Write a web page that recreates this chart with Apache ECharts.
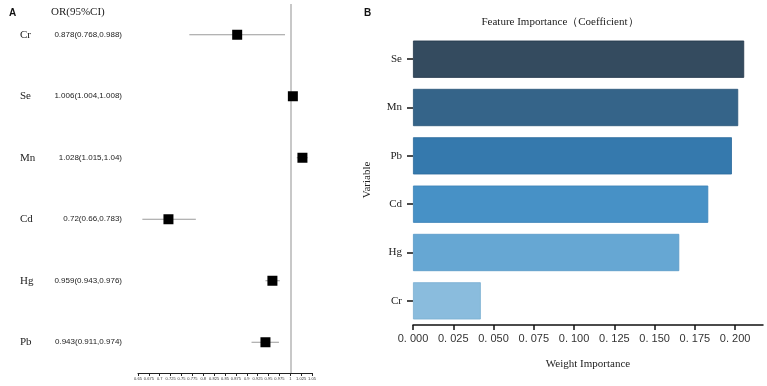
<!DOCTYPE html>
<html>
<head>
<meta charset="utf-8">
<script src="https://cdn.jsdelivr.net/npm/echarts@6/dist/echarts.min.js"></script>
<style>
  html, body { margin: 0; padding: 0; background: #fff; }
  #chart { width: 767px; height: 386px; }
</style>
</head>
<body>
<div id="chart"></div>
<script>
// panel A - forest plot
var orNames = ['Cr', 'Se', 'Mn', 'Cd', 'Hg', 'Pb']
var orValue = [0.878, 1.006, 1.028, 0.72, 0.959, 0.943]
var orLow = [0.768, 1.004, 1.015, 0.66, 0.943, 0.911]
var orHigh = [0.988, 1.008, 1.04, 0.783, 0.976, 0.974]
var orText = ['0.878(0.768,0.988)', '1.006(1.004,1.008)', '1.028(1.015,1.04)',
  '0.72(0.66,0.783)', '0.959(0.943,0.976)', '0.943(0.911,0.974)']
var refValue = 1

// panel B - feature importance
var featNames = ['Se', 'Mn', 'Pb', 'Cd', 'Hg', 'Cr']
var featValues = [0.2056, 0.2019, 0.198, 0.1833, 0.1653, 0.0421]
var featColors = ['#344b5f', '#356489', '#3579ad', '#4791c6', '#66a7d3', '#8abcdd']
var featBorders = ['#22364a', '#2a5578', '#2b6a9c', '#3a82b8', '#5898c6', '#7aaed2']

var serif = '"Liberation Serif", "DejaVu Serif", serif'
var sans = '"Liberation Sans", Arial, sans-serif'

var myChart = echarts.init(document.getElementById('chart'))

myChart.setOption({
  animation: false,
  backgroundColor: '#fff',
  title: [
    { text: 'A', left: 4, top: 3, textStyle: { fontFamily: sans, fontSize: 10, fontWeight: 'bold', color: '#111' } },
    { text: 'OR(95%CI)', left: 46, top: 2, textStyle: { fontFamily: serif, fontSize: 11, fontWeight: 'normal', color: '#222' } },
    { text: 'B', left: 359, top: 3, textStyle: { fontFamily: sans, fontSize: 10, fontWeight: 'bold', color: '#111' } },
    {
      text: 'Feature Importance（Coefficient）', left: 555, top: 12, textAlign: 'center',
      textStyle: { fontFamily: serif, fontSize: 11, fontWeight: 'normal', color: '#222' }
    }
  ],
  grid: [
    { left: 138, top: 4, width: 174, height: 369 },
    { left: 413, top: 35, right: 4, height: 290 }
  ],
  xAxis: [
    {
      type: 'value', gridIndex: 0, min: 0.65, max: 1.05, interval: 0.025,
      splitLine: { show: false },
      axisLine: { show: true, onZero: false, lineStyle: { color: '#222', width: 1 } },
      axisTick: { show: true, length: 3, lineStyle: { color: '#222' } },
      axisLabel: {
        interval: 0, fontSize: 4, margin: 4, color: '#333', fontFamily: sans,
        formatter: function (v) { return String(+v.toFixed(3)) }
      }
    },
    {
      type: 'value', gridIndex: 1, min: 0, max: 0.2173, interval: 0.025,
      splitLine: { show: false },
      axisLine: { show: true, onZero: false, lineStyle: { color: '#111', width: 1.5 } },
      axisTick: { show: true, length: 5, lineStyle: { color: '#111', width: 1.5 } },
      axisLabel: {
        showMaxLabel: false, fontSize: 11, margin: 8, color: '#333', fontFamily: sans,
        formatter: function (v) { return v.toFixed(3).replace('.', '. ') }
      },
      name: 'Weight Importance', nameLocation: 'middle', nameGap: 34,
      nameTextStyle: { fontFamily: serif, fontSize: 11, color: '#222' }
    }
  ],
  yAxis: [
    {
      type: 'category', gridIndex: 0, data: orNames, inverse: true,
      axisLine: { show: false }, axisTick: { show: false },
      axisLabel: { align: 'left', margin: 118, fontFamily: serif, fontSize: 11, color: '#222' }
    },
    {
      type: 'category', gridIndex: 0, data: orText, inverse: true, position: 'left',
      axisLine: { show: false }, axisTick: { show: false },
      axisLabel: { align: 'right', margin: 16, fontFamily: sans, fontSize: 8, color: '#222' }
    },
    {
      type: 'category', gridIndex: 1, data: featNames, inverse: true,
      axisLine: { show: false },
      axisTick: { show: true, alignWithLabel: true, length: 6, lineStyle: { color: '#111', width: 1.5 } },
      axisLabel: { margin: 11, fontFamily: serif, fontSize: 11, color: '#222' },
      name: 'Variable', nameLocation: 'middle', nameGap: 40, nameRotate: 90,
      nameTextStyle: { fontFamily: serif, fontSize: 11, color: '#222' }
    }
  ],
  series: [
    {
      // reference line at OR = 1, drawn under the markers
      type: 'scatter', xAxisIndex: 0, yAxisIndex: 0, data: [],
      markLine: {
        silent: true, symbol: 'none', label: { show: false },
        lineStyle: { color: '#c8c8c8', width: 2, type: 'solid' },
        data: [{ xAxis: refValue }]
      },
      z: 1
    },
    {
      // confidence intervals
      type: 'custom', xAxisIndex: 0, yAxisIndex: 0,
      data: orNames.map(function (n, i) { return [orLow[i], orHigh[i], i] }),
      renderItem: function (params, api) {
        var a = api.coord([api.value(0), api.value(2)])
        var b = api.coord([api.value(1), api.value(2)])
        return {
          type: 'line',
          shape: { x1: a[0], y1: a[1], x2: b[0], y2: b[1] },
          style: { stroke: '#9a9a9a', lineWidth: 1 }
        }
      },
      z: 2
    },
    {
      type: 'scatter', xAxisIndex: 0, yAxisIndex: 0,
      symbol: 'rect', symbolSize: 10,
      itemStyle: { color: '#000', opacity: 1 },
      data: orNames.map(function (n, i) { return [orValue[i], i] }),
      z: 5
    },
    {
      type: 'bar', xAxisIndex: 1, yAxisIndex: 2,
      barCategoryGap: '23%',
      data: featValues.map(function (v, i) {
        return { value: v, itemStyle: { color: featColors[i], borderColor: featBorders[i], borderWidth: 0.8 } }
      })
    }
  ]
})
</script>
</body>
</html>
